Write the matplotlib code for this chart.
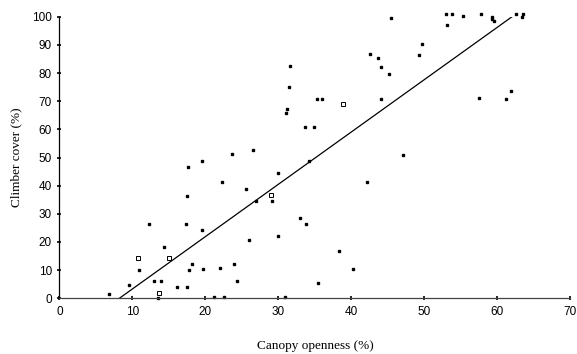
import matplotlib.pyplot as plt

# canopy openness (%) vs climber cover (%)
openness = [
    6.8, 9.5, 10.9, 12.2, 13.0, 13.9, 13.5, 14.3, 16.1, 17.3,
    17.4, 17.6, 17.5, 17.8, 18.1, 19.5, 19.5, 19.7, 21.1, 22.0,
    22.3, 22.5, 23.6, 23.9, 24.3, 25.6, 26.0, 26.5, 26.9, 29.1,
    29.9, 30.0, 30.9, 31.0, 31.1, 31.5, 31.6, 32.9, 33.6, 33.8,
    34.2, 34.9, 35.3, 35.4, 36.0, 38.3, 40.2, 42.1, 42.5, 43.6,
    44.0, 44.1, 45.1, 45.4, 47.0, 49.3, 49.6, 53.0, 53.1, 53.8,
    55.3, 57.5, 57.7, 59.3, 59.3, 59.5, 61.1, 61.9, 62.5, 63.5,
    63.4,
]
cover = [
    1.7, 4.8, 10.2, 26.3, 6.0, 6.0, 0.0, 18.3, 4.0, 26.3,
    36.4, 46.5, 4.0, 10.2, 12.3, 48.6, 24.3, 10.3, 0.4, 10.9,
    41.4, 0.4, 51.2, 12.3, 6.1, 38.7, 20.7, 52.7, 34.5, 34.5,
    22.2, 44.6, 0.4, 65.9, 67.3, 74.9, 82.6, 28.4, 60.9, 26.5,
    48.8, 60.9, 70.8, 5.4, 70.8, 16.7, 10.5, 41.3, 86.9, 85.4,
    82.1, 70.9, 79.8, 99.5, 50.9, 86.3, 90.4, 101.0, 97.1, 101.0,
    100.1, 71.2, 101.0, 99.8, 99.2, 98.4, 70.7, 73.5, 101.1, 101.1,
    99.9,
]
# a few points are drawn as open squares
open_x = [10.8, 13.7, 15.0, 29.0, 38.9]
open_y = [14.2, 1.8, 14.2, 36.6, 68.9]

# fitted line end points
fit_x = [8.2, 62.0]
fit_y = [0.0, 100.0]

fig = plt.figure(figsize=(5.77, 3.54), dpi=100)
ax = fig.add_axes([0.1031, 0.1573, 0.8856, 0.7955])

ax.plot(openness, cover, "s", color="black", markersize=1.8, clip_on=False)
ax.plot(open_x, open_y, "s", markerfacecolor="white", markeredgecolor="black",
        markersize=2.2, markeredgewidth=0.7, clip_on=False)
ax.plot(fit_x, fit_y, "-", color="black", linewidth=0.9)

ax.set_xlim(0, 70)
ax.set_ylim(0, 100)
ax.set_xticks(range(0, 71, 10))
ax.set_yticks(range(0, 101, 10))
for s in ("top", "right"):
    ax.spines[s].set_visible(False)
ax.spines["left"].set_linewidth(0.9)
ax.spines["bottom"].set_linewidth(0.9)
ax.spines["bottom"].set_color("#444444")

ax.tick_params(direction="inout", length=3, width=1.2, labelsize=8.5, pad=4)
for lab in ax.get_xticklabels() + ax.get_yticklabels():
    lab.set_family("Liberation Sans")

ax.set_xlabel("Canopy openness (%)", family="Liberation Serif", fontsize=9.5, labelpad=16)
ax.set_ylabel("Climber cover (%)", family="Liberation Serif", fontsize=9.5, labelpad=7)

fig.savefig("out.png", dpi=100)
